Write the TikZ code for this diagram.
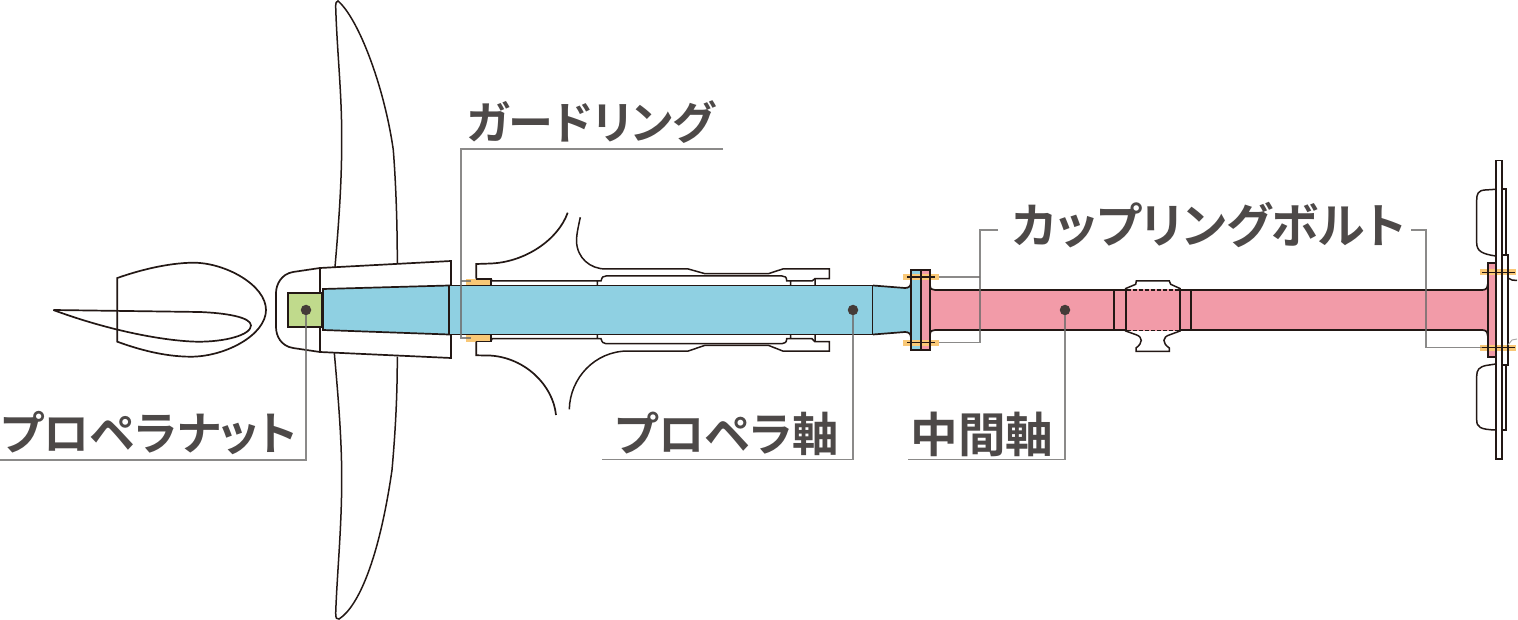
\documentclass[tikz,border=0pt]{standalone}
\usepackage{fontspec}
\newfontfamily\cjk[BoldFont={Noto Sans CJK JP Bold},RawFeature={+palt}]{Noto Sans CJK JP}
\definecolor{ink}{HTML}{231815}
\definecolor{labelc}{HTML}{4D4948}
\definecolor{leadc}{HTML}{6F6D6C}
\definecolor{blueF}{HTML}{8FD0E2}
\definecolor{pinkF}{HTML}{F29BA8}
\definecolor{greenF}{HTML}{C0DA8C}
\definecolor{orangeF}{HTML}{F9C877}
\tikzset{
  part/.style={draw=ink,line width=1.7pt,line join=miter},
  thin part/.style={draw=ink,line width=1.5pt},
  leader/.style={draw=leadc,line width=1.3pt,opacity=.8},
  anchor dot/.style={circle,fill=ink!85!white,inner sep=0pt,minimum size=10.5pt},
  lab/.style={text=labelc,inner sep=0pt},
  labfont/.style={font=\cjk\bfseries\fontsize{#1}{#1}\selectfont},
  bolt/.style={fill=orangeF,draw=none},
  boltline/.style={draw=ink,line width=1.6pt}
}
\begin{document}
\begin{tikzpicture}[x=1pt,y=-1pt]
\useasboundingbox (0,0) rectangle (1518,620);
\fill[white] (0,0) rectangle (1518,620);

% spinner and airfoil
\draw[part] (117.3,278) .. controls (140,270) and (168,263) .. (193,262.7) .. controls (225,262.5) and (266,285) .. (266,310) .. controls (266,335) and (225,357) .. (190,356.7) .. controls (165,356.5) and (140,350) .. (117.3,341.7) -- cycle;
\draw[part,line join=round] (53.3,310) -- (200,312) .. controls (225,313) and (251,317) .. (251,325.5) .. controls (251,335) and (225,342) .. (197,341.7) .. controls (165,341) and (110,331) .. (53.3,310);

% blade
\draw[thin part] (335,267) .. controls (339,220) and (342,180) .. (341.7,133) .. controls (341.5,90) and (337,50) .. (335.7,7) .. controls (335.5,3) and (336.5,.8) .. (338,1) .. controls (358,18) and (384,85) .. (393.3,150) .. controls (396,185) and (397.3,225) .. (397.3,263);
\draw[thin part] (334.3,352.7) .. controls (338,395) and (342,440) .. (341.7,483) .. controls (341.5,530) and (337,575) .. (335.7,613) .. controls (335.5,618) and (337,620) .. (339,619) .. controls (358,607) and (379,560) .. (392,470) .. controls (396,425) and (397.3,390) .. (397.3,356.7);

% hub
\draw[part,fill=white] (320,268) -- (451,261) -- (451,358) -- (320,352) -- cycle;
\draw[part] (320,268) -- (293,272) .. controls (281,274) and (276,285) .. (276,293) -- (276,327) .. controls (276,336) and (281,346) .. (293,348) -- (320,352);

% propeller shaft
\draw[part,fill=greenF] (288,293) rectangle (322,327);
\draw[part,fill=blueF] (323,289) -- (449,285.5) -- (449,334.5) -- (323,330) -- cycle;
\fill[blueF] (449,285.5) rectangle (873,334.5);
\draw[part] (449,285.5) -- (873,285.5) (449,334.5) -- (873,334.5);
\draw[part] (449,285.5) -- (449,334.5) (873,285.5) -- (873,334.5);
\draw[part,fill=blueF] (873,285.5) -- (905,288) .. controls (909,288) and (911,286) .. (911,282) -- (911,338) .. controls (911,334) and (909,332) .. (905,332) -- (873,334.5);

% bearing top
\fill[orangeF] (466,278.7) rectangle (491,285);
\fill[orangeF] (466,334.5) rectangle (491,341.5);
\draw[part] (476.3,278.7) -- (476.3,264) -- (491,263.5) .. controls (525,262) and (558,240) .. (567.7,212.7);
\draw[part] (476.3,278.7) -- (491,278.7) -- (491,285);
\draw[thin part] (580.3,217.3) .. controls (578,228) and (576.5,235) .. (576.5,241) .. controls (577,258) and (590,269) .. (606,269) -- (688.3,269) -- (705,273.7) -- (768.3,273.7) -- (782.7,269) -- (829.3,269) -- (829.3,278.7) -- (815,278.7) -- (815,285);
\draw[thin part] (491,278.7) -- (492,281) -- (597.3,281) -- (597.3,285) (597.3,281) -- (601,281) .. controls (602,277) and (603,276) .. (606,276) -- (782,276) .. controls (785,276) and (786.7,277) .. (786.7,281) -- (790.7,281) -- (790.7,285) (790.7,281) -- (812,281) -- (815,278.7);

% bearing bottom
\draw[part] (476.3,341.5) -- (476.3,355.3) -- (491,355.6) .. controls (525,358) and (553,385) .. (556,415);
\draw[part] (476.3,341.5) -- (491,341.5) -- (491,334.5);
\draw[thin part] (569.3,409.3) .. controls (570,378) and (595,351) .. (628,351) -- (688.3,351) -- (705,345.3) -- (768.3,345.3) -- (782.7,351) -- (829.3,351) -- (829.3,341.7) -- (815,341.7) -- (815,334.5);
\draw[thin part] (491,341.5) -- (492,338.7) -- (597.3,338.7) -- (597.3,334.5) (597.3,338.7) -- (601,338.7) .. controls (602,342) and (603,343.7) .. (606,343.7) -- (782,343.7) .. controls (785,343.7) and (786.7,342) .. (786.7,338.7) -- (790.7,338.7) -- (790.7,334.5) (790.7,338.7) -- (812,338.7) -- (815,341.7);

% intermediate shaft
\fill[pinkF] (930,285) .. controls (930,289) and (932,290) .. (935,290) -- (1482,290) .. controls (1486,290) and (1487.7,288) .. (1487.7,284) -- (1487.7,336) .. controls (1487.7,332) and (1486,330) .. (1482,330) -- (935,330) .. controls (932,330) and (930,331) .. (930,335) -- cycle;
\draw[part] (930,285) .. controls (930,289) and (932,290) .. (935,290) -- (1126,290) (1180,290) -- (1482,290) .. controls (1486,290) and (1487.7,288) .. (1487.7,284);
\draw[part] (930,335) .. controls (930,331) and (932,330) .. (935,330) -- (1126,330) (1180,330) -- (1482,330) .. controls (1486,330) and (1487.7,332) .. (1487.7,336);
\draw[part] (1114,290) -- (1114,330) (1191,290) -- (1191,330);
\draw[thin part,fill=white] (1125.7,288.5) -- (1135.7,284.3) -- (1136.3,281) -- (1169.3,281) -- (1170.7,284.3) -- (1180,288.5) -- (1180,290) -- (1125.7,290) -- cycle;
\draw[thin part,fill=white] (1125.7,331) -- (1136,334.7) .. controls (1143,337) and (1143,343) .. (1136,348) -- (1136,351.3) -- (1169.3,351.3) -- (1169.3,348) .. controls (1162,343) and (1162,337) .. (1170,334.7) -- (1180,331) -- (1180,330) -- (1125.7,330) -- cycle;
\fill[pinkF] (1125.7,289) rectangle (1180,331);
\draw[part] (1125.7,288.5) -- (1125.7,331) (1180,288.5) -- (1180,331);
\draw[draw=ink,line width=1.4pt,dash pattern=on 4pt off 2pt] (1127,290) -- (1179,290) (1127,330.5) -- (1179,330.5);

% forward flange
\fill[blueF] (911,270) rectangle (921,350);
\fill[pinkF] (921,270) rectangle (930,350);
\fill[bolt] (903,274) rectangle (939,280);
\fill[bolt] (903,339.5) rectangle (939,345.5);
\draw[part] (911,270) rectangle (930,350);
\draw[part] (921,270) -- (921,350);
\draw[boltline] (907,277) -- (935,277) (907,342.5) -- (935,342.5);

% aft flange and plates
\fill[pinkF] (1487.7,263) rectangle (1496,357);
\fill[bolt] (1480,269) rectangle (1516,275.5);
\fill[bolt] (1480,345) rectangle (1516,351);
\draw[part] (1495.7,263) -- (1487.7,263) -- (1487.7,357) -- (1495.7,357);
\draw[part] (1495.7,160.5) rectangle (1502,459);
\draw[part] (1502,189.3) -- (1505.7,189.3) -- (1505.7,255) (1505.7,365) -- (1505.7,430) -- (1502,430);
\draw[part] (1501.8,255) rectangle (1508,365);
\draw[thin part] (1495.7,189.3) -- (1485,190) .. controls (1478,190.5) and (1476.7,194) .. (1476.7,200) -- (1476.7,243) .. controls (1476.7,251) and (1482,254) .. (1495.7,256);
\draw[thin part] (1495.7,364) -- (1486,365.5) .. controls (1479,367) and (1476.7,370) .. (1476.7,376) -- (1476.7,420) .. controls (1476.7,427) and (1480,429.5) .. (1495.7,430);
\draw[boltline] (1482,272.4) -- (1515,272.4) (1482,347.5) -- (1515,347.5);
\draw[thin part] (1508,278) -- (1512,280) -- (1517,280.5);
\draw[draw=leadc!60,line width=.9pt] (1508,345) -- (1512,340) -- (1517,339);

% anchor dots
\node[anchor dot] (dotNut) at (306,310) {};
\node[anchor dot] (dotProp) at (853,310) {};
\node[anchor dot] (dotMid) at (1065,310) {};

% free ends of leaders
\coordinate (nutEnd) at (0,460);
\coordinate (propEnd) at (602,459.5);
\coordinate (midEnd) at (908,459.5);
\coordinate (guardStart) at (723,149);
\coordinate (guardTop) at (470.7,281);
\coordinate (guardBot) at (470.7,338);
\coordinate (cplStartL) at (998,230);
\coordinate (cplTopL) at (939,277);
\coordinate (cplBotL) at (939,342.5);
\coordinate (cplStartR) at (1411,230);
\coordinate (cplBotR) at (1482,347.5);

% labels
\node[lab,labfont=46] (lNut) at (149,433) {プロペラナット};
\node[lab,labfont=45] (lGuard) at (591,122) {ガードリング};
\node[lab,labfont=47.8] (lCpl) at (1209,225) {カップリングボルト};
\node[lab,labfont=46.3] (lProp) at (727,434) {プロペラ軸};
\node[lab,labfont=47.6] (lMid) at (982,434) {中間軸};

% leaders
\draw[leader] (dotNut.south) |- (nutEnd);
\draw[leader] (dotProp.south) |- (propEnd);
\draw[leader] (dotMid.south) |- (midEnd);
\draw[leader] (guardStart) -- (461,149) -- (461,338) -- (guardBot);
\draw[leader] (461,281) -- (guardTop);
\draw[leader] (cplStartL) -- (980,230) -- (980,342.5) -- (cplBotL);
\draw[leader] (980,277) -- (cplTopL);
\draw[leader] (cplStartR) -- (1426,230) -- (1426,347.5) -- (cplBotR);
\end{tikzpicture}
\end{document}
